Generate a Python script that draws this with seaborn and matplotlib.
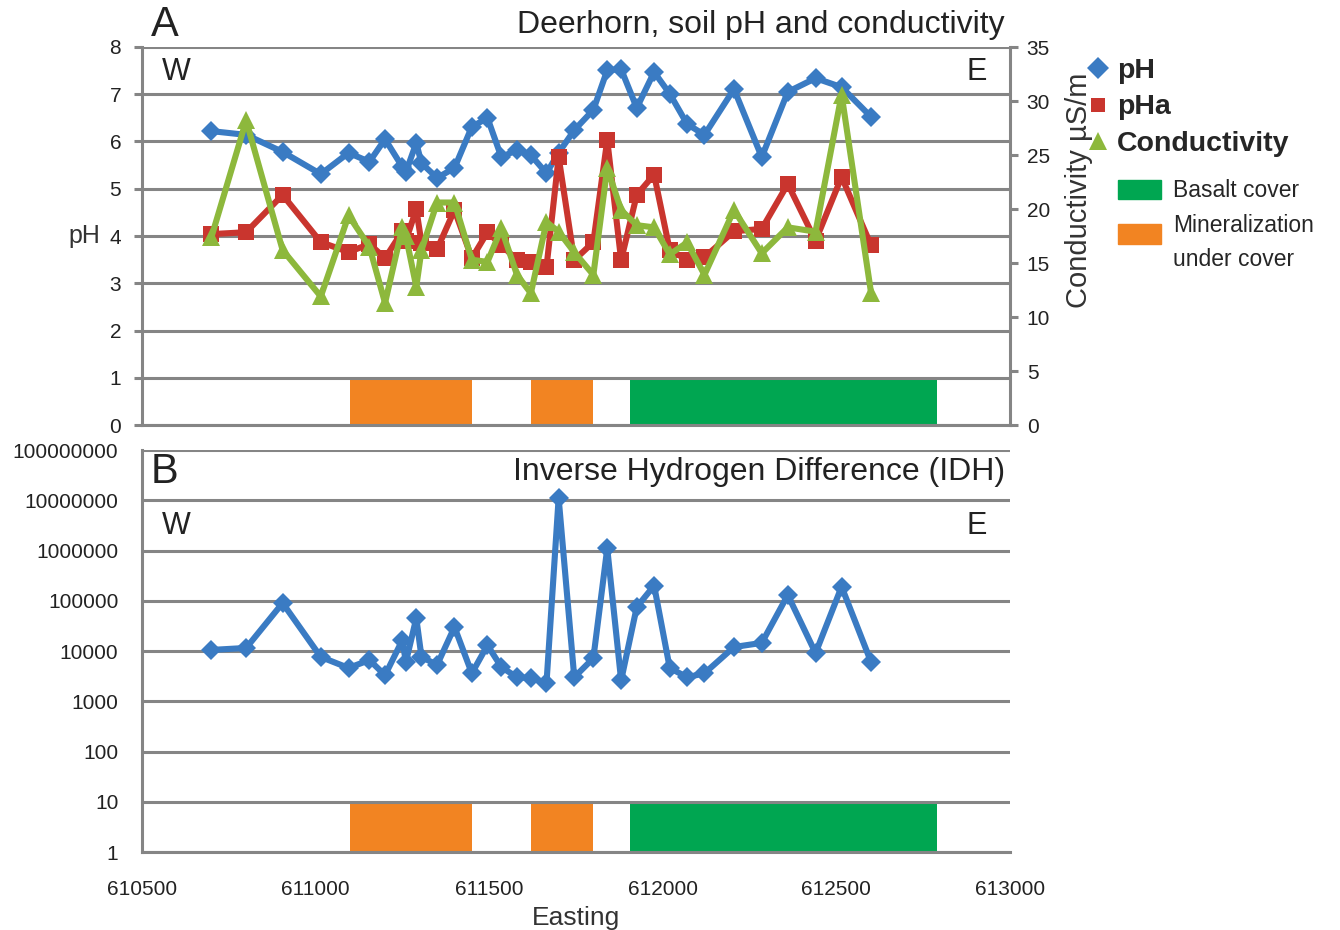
import matplotlib
matplotlib.use("Agg")
import matplotlib.pyplot as plt
import seaborn as sns
import numpy as np
from matplotlib.lines import Line2D
from matplotlib.patches import Patch
from matplotlib.legend_handler import HandlerPatch
from matplotlib.ticker import FixedLocator, FixedFormatter, NullLocator

# ---------------- data ----------------
easting = [610700, 610800, 610905, 611015, 611095, 611155, 611200, 611250, 611260,
           611290, 611305, 611350, 611400, 611450, 611495, 611535, 611580, 611620,
           611665, 611700, 611745, 611800, 611840, 611880, 611925, 611975, 612020,
           612070, 612120, 612205, 612285, 612360, 612440, 612515, 612600]
ph = [6.22, 6.14, 5.78, 5.31, 5.76, 5.57, 6.05, 5.46, 5.35, 5.97, 5.54, 5.23, 5.44,
      6.31, 6.50, 5.67, 5.82, 5.71, 5.33, 5.76, 6.24, 6.67, 7.51, 7.53, 6.71, 7.47,
      7.01, 6.37, 6.14, 7.11, 5.67, 7.05, 7.34, 7.15, 6.52]
pha = [4.04, 4.08, 4.87, 3.87, 3.66, 3.83, 3.53, 4.10, 3.90, 4.57, 3.85, 3.72, 4.55,
       3.53, 4.08, 3.81, 3.49, 3.45, 3.34, 5.67, 3.49, 3.87, 6.03, 3.49, 4.87, 5.30,
       3.70, 3.50, 3.55, 4.10, 4.15, 5.10, 3.90, 5.25, 3.80]
conductivity = [17.4, 28.2, 16.2, 11.9, 19.4, 16.5, 11.3, 18.3, 17.5, 12.8, 16.2, 20.6,
                20.6, 15.3, 15.1, 18.2, 13.9, 12.2, 18.8, 17.9, 16.0, 13.9, 23.8, 19.9,
                18.5, 18.3, 15.8, 16.9, 13.9, 19.9, 15.9, 18.3, 17.9, 30.6, 12.2]
idh = [10500, 11500, 90000, 7600, 4600, 6600, 3300, 16500, 6000, 45000, 7600, 5300,
       30000, 3600, 13000, 4800, 3000, 2900, 2300, 11000000, 3000, 7200, 1100000, 2600,
       75000, 200000, 4600, 3000, 3600, 12000, 14500, 130000, 9100, 190000, 6000]

zone_start = [611100, 611620, 611905]
zone_end = [611450, 611800, 612790]
zone_type = ["Mineralization under cover", "Mineralization under cover", "Basalt cover"]

x_ticks = [610500, 611000, 611500, 612000, 612500, 613000]
ph_ticks = [0, 1, 2, 3, 4, 5, 6, 7, 8]
cond_ticks = [0, 5, 10, 15, 20, 25, 30, 35]
idh_ticks = [1, 10, 100, 1000, 10000, 100000, 1000000, 10000000, 100000000]

# ---------------- style ----------------
sns.set_style("white")
plt.rcParams["font.family"] = ["Liberation Sans", "DejaVu Sans"]

BLUE = "#3A7BC3"
RED = "#C9352E"
GREEN = "#8DB83C"
ORANGE = "#F28422"
BASALT = "#00A651"
GRAY = "#858585"
TXT = "#222222"
zone_colors = {"Mineralization under cover": ORANGE, "Basalt cover": BASALT}

W, H = 1340, 930
fig = plt.figure(figsize=(W / 100, H / 100), dpi=100)
ax = fig.add_axes([142 / W, 1 - 425 / H, 868 / W, 378 / H])
axb = fig.add_axes([142 / W, 1 - 852 / H, 868 / W, 402 / H])

LW = 4.4
TICKFS = 15
GLW = 2.2


def style_axes(a, ypad):
    for s in ["top", "right"]:
        a.spines[s].set_visible(False)
    for s in ["left", "bottom"]:
        a.spines[s].set_color(GRAY)
        a.spines[s].set_linewidth(GLW)
    a.grid(axis="y", color=GRAY, linewidth=GLW)
    a.grid(axis="x", visible=False)
    a.set_axisbelow("line")
    a.tick_params(axis="both", direction="out", length=6, width=GLW, color=GRAY,
                  labelsize=TICKFS, labelcolor=TXT)
    a.tick_params(axis="y", pad=ypad)
    a.tick_params(axis="x", length=8)


# ---------------- panel A ----------------
colors = [zone_colors[t] for t in zone_type]
widths = [e - s for s, e in zip(zone_start, zone_end)]
ax.bar(zone_start, [1] * len(zone_start), width=widths, bottom=0, align="edge",
       color=colors, linewidth=0, zorder=1)
sns.lineplot(x=easting, y=ph, ax=ax, sort=False, color=BLUE, linewidth=LW,
             marker="D", markersize=10.5, markeredgewidth=0, zorder=3)
sns.lineplot(x=easting, y=pha, ax=ax, sort=False, color=RED, linewidth=LW,
             marker="s", markersize=11, markeredgewidth=0, zorder=3)
ax.set_xlim(x_ticks[0], x_ticks[-1])
ax.set_ylim(ph_ticks[0], ph_ticks[-1])
ax.set_yticks(ph_ticks)
ax.set_xticks(x_ticks)
ax.set_xticklabels([])
style_axes(ax, 9)
ax.set_xlabel("")
ax.set_ylabel("pH", rotation=0, fontsize=18, color="#333333", va="center", ha="center")
ax.yaxis.set_label_coords(-0.066, 0.5)

ax2 = ax.twinx()
sns.lineplot(x=easting, y=conductivity, ax=ax2, sort=False, color=GREEN, linewidth=LW,
             marker="^", markersize=13, markeredgewidth=0, zorder=3)
ax2.set_ylim(cond_ticks[0], cond_ticks[-1])
ax2.set_yticks(cond_ticks)
ax2.grid(False)
for s in ["top", "left", "bottom"]:
    ax2.spines[s].set_visible(False)
ax2.spines["right"].set_color(GRAY)
ax2.spines["right"].set_linewidth(GLW)
ax2.tick_params(axis="y", direction="out", length=6, width=GLW, color=GRAY,
                labelsize=TICKFS, labelcolor=TXT, pad=6)
ax2.set_ylabel("Conductivity µS/m", fontsize=21, color="#333333")
ax2.yaxis.set_label_coords(1.063, 0.62)

ax.text(0.04, 0.935, "W", transform=ax.transAxes, fontsize=22, ha="center", va="center",
        color=TXT)
ax.text(0.962, 0.935, "E", transform=ax.transAxes, fontsize=22, ha="center", va="center",
        color=TXT)
fig.text(165 / W, 1 - 25 / H, "A", fontsize=30, ha="center", va="center", color=TXT)
fig.text(1005 / W, 1 - 25 / H, "Deerhorn, soil pH and conductivity", fontsize=23,
         ha="right", va="center", color=TXT)

# ---------------- panel B ----------------
axb.bar(zone_start, [9] * len(zone_start), width=widths, bottom=1, align="edge",
        color=colors, linewidth=0, zorder=1)
sns.lineplot(x=easting, y=idh, ax=axb, sort=False, color=BLUE, linewidth=LW,
             marker="D", markersize=10.5, markeredgewidth=0, zorder=3)
axb.set_yscale("log")
axb.set_xlim(x_ticks[0], x_ticks[-1])
axb.set_ylim(idh_ticks[0], idh_ticks[-1])
axb.yaxis.set_major_locator(FixedLocator(idh_ticks))
axb.yaxis.set_major_formatter(FixedFormatter([str(v) for v in idh_ticks]))
axb.yaxis.set_minor_locator(NullLocator())
axb.set_xticks(x_ticks)
axb.set_xticklabels([str(v) for v in x_ticks])
style_axes(axb, 11)
axb.tick_params(axis="x", pad=12)
axb.set_ylabel("")
axb.set_xlabel("Easting", fontsize=19, color="#333333", labelpad=5)

axb.text(0.04, 0.81, "W", transform=axb.transAxes, fontsize=22, ha="center", va="center",
         color=TXT)
axb.text(0.962, 0.81, "E", transform=axb.transAxes, fontsize=22, ha="center", va="center",
         color=TXT)
fig.text(165 / W, 1 - 472 / H, "B", fontsize=30, ha="center", va="center", color=TXT)
fig.text(1005 / W, 1 - 472 / H, "Inverse Hydrogen Difference (IDH)", fontsize=23,
         ha="right", va="center", color=TXT)


# ---------------- legends ----------------
class ShiftedPatchHandler(HandlerPatch):
    def __init__(self, dy=0.0, **kw):
        super().__init__(**kw)
        self.dy = dy

    def create_artists(self, legend, orig_handle, xdescent, ydescent, width, height,
                       fontsize, trans):
        return super().create_artists(legend, orig_handle, xdescent, ydescent - self.dy,
                                      width, height, fontsize, trans)


h1 = [Line2D([], [], color=BLUE, marker="D", linestyle="None", markersize=11, markeredgewidth=0),
      Line2D([], [], color=RED, marker="s", linestyle="None", markersize=10, markeredgewidth=0),
      Line2D([], [], color=GREEN, marker="^", linestyle="None", markersize=13, markeredgewidth=0)]
leg1 = fig.legend(h1, ["pH", "pHa", "Conductivity"], loc="upper left",
                  bbox_to_anchor=(1074 / W, 1 - 44 / H), frameon=False,
                  prop={"weight": "bold", "size": 20.5}, handlelength=0.7,
                  handletextpad=0.3, labelspacing=0.36, borderpad=0)
basalt_patch = Patch(color=BASALT)
mineral_patch = Patch(color=ORANGE)
leg2 = fig.legend([basalt_patch, mineral_patch], ["Basalt cover", "Mineralization\nunder cover"],
                  loc="upper left", bbox_to_anchor=(1107 / W, 1 - 168 / H), frameon=False,
                  prop={"size": 16.5}, handlelength=1.85, handleheight=0.95,
                  handletextpad=0.55, labelspacing=0.5, borderpad=0,
                  handler_map={mineral_patch: ShiftedPatchHandler(dy=7.0)})
for t in leg2.get_texts():
    t.set_linespacing(1.6)

fig.savefig("out.png", dpi=100)
